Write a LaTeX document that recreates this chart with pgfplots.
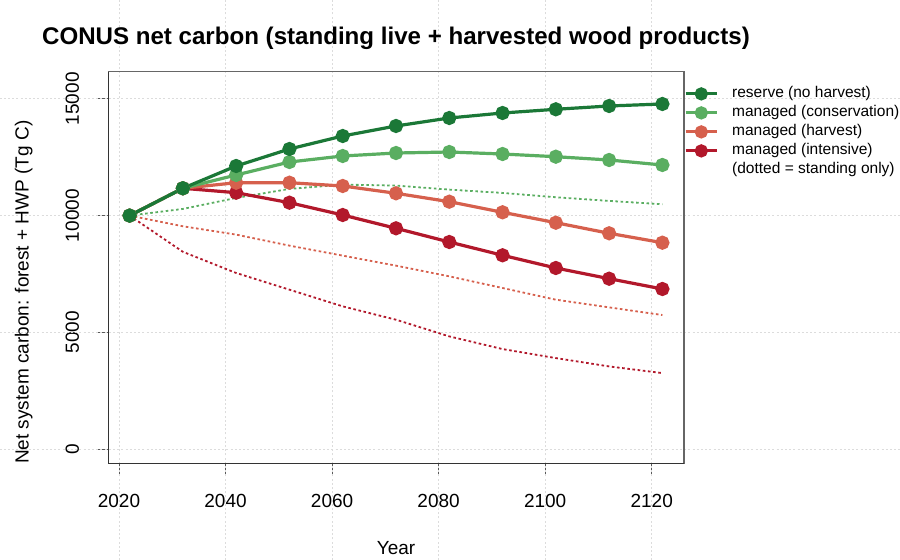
\documentclass[border=0pt]{standalone}
\usepackage{fontspec}
\setmainfont{Liberation Sans}
\usepackage{pgfplots}
\pgfplotsset{compat=1.18}
\definecolor{cres}{HTML}{1B7837}
\definecolor{ccon}{HTML}{5AAE61}
\definecolor{char}{HTML}{D6604D}
\definecolor{cint}{HTML}{B2182B}
\definecolor{cgrid}{HTML}{DCDCDC}
\definecolor{cboxa}{HTML}{333333}
\definecolor{cboxb}{HTML}{666666}
\tikzset{gridline/.style={cgrid, line width=0.8bp, dash pattern=on 2bp off 2.2bp}}
\begin{document}
\begin{tikzpicture}[x=1bp,y=1bp]
\useasboundingbox (0,0) rectangle (900,560);
\begin{axis}[
  at={(108.3bp,96.3bp)}, anchor=south west,
  scale only axis, width=575.4bp, height=392bp,
  xmin=2018, xmax=2126, ymin=-621.6, ymax=16161.6,
  clip=false,
  axis line style={draw=none},
  xtick={2020,2040,2060,2080,2100,2120},
  ytick={0,5000,10000,15000},
  xtick pos=left, ytick pos=left,
  tick align=outside, major tick length=12bp,
  tick style={color=black!65, line width=0.8bp},
  scaled y ticks=false,
  /pgf/number format/1000 sep={},
  /pgf/number format/assume math mode=true,
  xticklabel style={font=\fontsize{19bp}{22bp}\selectfont, anchor=base, yshift=-31.6bp},
  yticklabel style={font=\fontsize{19bp}{22bp}\selectfont, xshift=-17.5bp, rotate=90, anchor=base},
  legend style={draw=none, fill=none, at={(rel axis cs:1,1)}, anchor=north west,
    xshift=0bp, yshift=-14.5bp, inner sep=0pt, row sep=4bp, column sep=13.5bp,
    font=\fontsize{15.5bp}{18bp}\selectfont,
    nodes={inner sep=0pt, text height=11.5bp, text depth=3.5bp}},
  legend cell align=left,
  legend image code/.code={\draw[mark repeat=2,mark phase=2, mark size=5bp] plot coordinates {(0bp,0bp) (15.8bp,0bp) (31.6bp,0bp)};},
  reverse legend,
  every axis plot/.append style={line width=3.2bp, mark=*, mark size=5.5bp, mark options={solid, draw=none}},
]
% grid lines over the whole figure
\pgfplotsinvokeforeach{2020,2040,2060,2080,2100,2120}{\draw[gridline] (axis cs:#1,-8000) -- (axis cs:#1,22000);}
\pgfplotsinvokeforeach{0,5000,10000,15000}{\draw[gridline] (axis cs:1985,#1) -- (axis cs:2180,#1);}
% box
\draw[cboxb, line width=1.6bp] (rel axis cs:0,1) -- (rel axis cs:1,1) -- (rel axis cs:1,0);
\draw[cboxa, line width=1.6bp] (rel axis cs:0,1) -- (rel axis cs:0,0) -- (rel axis cs:1,0);

% dotted: standing only
\addplot[forget plot, ccon, line width=1.8bp, mark=none, dash pattern=on 2.6bp off 2.6bp] coordinates {
(2022,10000) (2032,10286) (2042,10757) (2052,11143) (2062,11327) (2072,11286) (2082,11113) (2092,10971) (2102,10786) (2112,10629) (2122,10486)};
\addplot[forget plot, char, line width=1.8bp, mark=none, dash pattern=on 2.6bp off 2.6bp] coordinates {
(2022,10000) (2032,9543) (2042,9186) (2052,8714) (2062,8286) (2072,7857) (2082,7400) (2092,6900) (2102,6400) (2112,6071) (2122,5743)};
\addplot[forget plot, cint, line width=1.8bp, mark=none, dash pattern=on 2.6bp off 2.6bp] coordinates {
(2022,10000) (2032,8450) (2042,7543) (2052,6829) (2062,6114) (2072,5543) (2082,4829) (2092,4286) (2102,3900) (2112,3543) (2122,3257)};

\addlegendimage{empty legend}
\addlegendentry{(dotted = standing only)}

\addplot[cint] coordinates {
(2022,10000) (2032,11170) (2042,10981) (2052,10553) (2062,10026) (2072,9457) (2082,8870) (2092,8301) (2102,7757) (2112,7299) (2122,6858)};
\addlegendentry{managed (intensive)}
\addplot[char] coordinates {
(2022,10000) (2032,11170) (2042,11409) (2052,11409) (2062,11268) (2072,10955) (2082,10596) (2092,10142) (2102,9696) (2112,9243) (2122,8840)};
\addlegendentry{managed (harvest)}
\addplot[ccon] coordinates {
(2022,10000) (2032,11170) (2042,11739) (2052,12295) (2062,12552) (2072,12680) (2082,12723) (2092,12637) (2102,12522) (2112,12381) (2122,12167)};
\addlegendentry{managed (conservation)}
\addplot[cres] coordinates {
(2022,10000) (2032,11170) (2042,12124) (2052,12852) (2062,13408) (2072,13837) (2082,14179) (2092,14393) (2102,14552) (2112,14693) (2122,14779)};
\addlegendentry{reserve (no harvest)}
\end{axis}
\node[font=\bfseries\fontsize{24.1bp}{27bp}\selectfont, anchor=base] at (396,515) {CONUS net carbon (standing live + harvested wood products)};
\node[font=\fontsize{19bp}{22bp}\selectfont, anchor=base] at (396,5) {Year};
\node[font=\fontsize{19bp}{22bp}\selectfont, rotate=90, anchor=base] at (28.5,267.7) {Net system carbon: forest + HWP (Tg C)};
\end{tikzpicture}
\end{document}
